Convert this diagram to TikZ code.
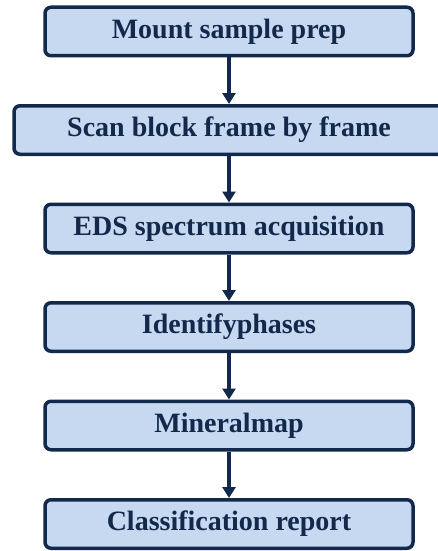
\documentclass[tikz,border=0pt]{standalone}
\usepackage{fontspec}
\setmainfont{Liberation Serif}
\usetikzlibrary{positioning,arrows.meta}
\definecolor{stepfill}{HTML}{C6D9F1}
\definecolor{stepline}{HTML}{13294B}
\tikzset{
    stepbox/.style = {
        draw = stepline,
        fill = stepfill,
        line width = 3.5pt,
        rounded corners = 6pt,
        minimum width = 368pt,
        minimum height = 48.5pt,
        text = stepline,
        font = \fontsize{28}{30}\selectfont\bfseries,
        },
    wide/.style = {
        minimum width = 430pt,
        },
    flow/.style = {
        draw = stepline,
        line width = 3.5pt,
        -{Triangle[width=13pt,length=11pt]},
        },
}
\begin{document}
\begin{tikzpicture}[node distance=46.5pt]
            \useasboundingbox (0,0) rectangle (437pt,-551pt);
            \node[stepbox] (mount) at (229pt,-31.5pt) {Mount sample prep};
            \node[stepbox, wide, below=of mount] (scan) {Scan block frame by frame};
            \node[stepbox, below=of scan] (eds) {EDS spectrum acquisition};
            \node[stepbox, below=of eds] (phases) {Identifyphases};
            \node[stepbox, below=of phases] (minmap) {Mineralmap};
            \node[stepbox, below=of minmap] (report) {Classification report};

            \draw[flow] (mount) -- (scan);
            \draw[flow] (scan) -- (eds);
            \draw[flow] (eds) -- (phases);
            \draw[flow] (phases) -- (minmap);
            \draw[flow] (minmap) -- (report);
        \end{tikzpicture}
\end{document}
